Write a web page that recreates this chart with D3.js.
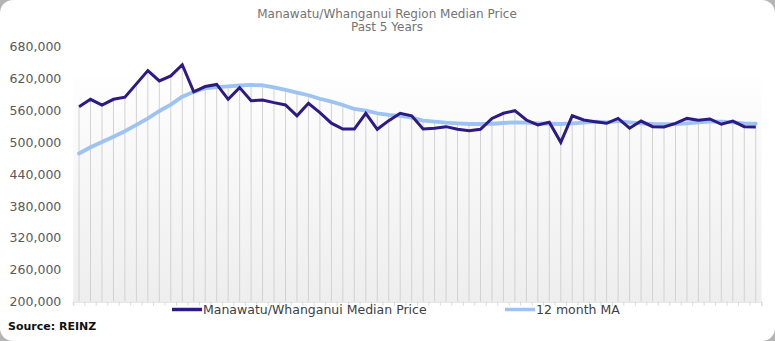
<!DOCTYPE html>
<html><head><meta charset="utf-8">
<script src="https://cdn.jsdelivr.net/npm/d3@7"></script>
<style>html,body{margin:0;padding:0;background:#fff;}svg{display:block;}</style>
</head><body>
<svg id="c" width="775" height="341"></svg>
<script>
const titleLines = ["Manawatu/Whanganui Region Median Price", "Past 5 Years"];
const seriesNames = ["Manawatu/Whanganui Median Price", "12 month MA"];
const medianPrice = [567000,581000,570000,581000,585000,610000,635000,615500,625000,646000,
  595000,605000,609000,581000,603000,578400,579700,574700,570300,550000,
  573500,556000,536000,525000,525000,554700,524600,540800,554700,550000,
  525000,526500,529500,524600,522000,524600,545000,554700,559600,542000,
  532700,537700,500000,550000,542000,538800,535800,545000,526500,540000,
  529500,529000,535800,545000,541500,544000,534000,540000,529500,529000];
const movingAvg = [479000,490700,500700,510600,521000,533000,545000,559000,571000,586000,
  595000,601800,604000,605500,607000,608000,607400,603600,598600,593500,
  588600,582000,576500,570300,562800,559600,554700,551500,549600,546400,
  540800,538800,537000,535800,534500,534500,535000,536400,537700,537000,
  535800,535000,534500,535800,537000,538800,537700,540000,537700,535800,
  534500,534000,534500,535800,537700,538800,538800,537700,535800,535200];
const yTicks = [200000,260000,320000,380000,440000,500000,560000,620000,680000];
const sourceText = "Source: REINZ";

(function(){
const svg = d3.select("#c");
const W = 775, H = 341;
const font = "'DejaVu Sans', sans-serif";

svg.append("rect").attr("width",W).attr("height",H).attr("fill","#b4b4b4");
svg.append("rect").attr("width",W).attr("height",H).attr("rx",13).attr("fill","#fff");

const pl = 73.3, pr = 761.5, pt = 46.7, pb = 301.7;
const idx = d3.range(medianPrice.length);
const x = d3.scaleBand().domain(idx).range([pl,pr]).padding(0);
const cx = i => x(i) + x.bandwidth()/2;
const y = d3.scaleLinear().domain([200000,680000]).range([pb,pt]);

const defs = svg.append("defs");
const g = defs.append("linearGradient").attr("id","bg").attr("x1",0).attr("y1",0).attr("x2",0).attr("y2",1);
g.append("stop").attr("offset","0%").attr("stop-color","#fefefe");
g.append("stop").attr("offset","100%").attr("stop-color","#eeeeee");
svg.append("rect").attr("x",pl).attr("y",75).attr("width",pr-pl).attr("height",pb-75).attr("fill","url(#bg)");

svg.append("g").selectAll("line").data(idx).join("line")
  .attr("x1",i=>cx(i)).attr("x2",i=>cx(i))
  .attr("y1",i=>y(Math.max(medianPrice[i],movingAvg[i])))
  .attr("y2",pb)
  .attr("stroke","#d2d2d2").attr("stroke-width",1);

const xAxis = d3.axisBottom(x).tickSize(4).tickFormat("");
const xg = svg.append("g").attr("transform",`translate(0,${pb})`).call(xAxis);
xg.select(".domain").attr("stroke","#dcdcdc");
xg.selectAll(".tick line").attr("stroke","#d9d9d9").attr("transform",`translate(${-x.bandwidth()/2},0)`);
xg.append("line").attr("x1",pr).attr("x2",pr).attr("y1",0).attr("y2",4).attr("stroke","#d9d9d9");

const yAxis = d3.axisLeft(y).tickValues(yTicks).tickSize(0).tickPadding(12).tickFormat(d3.format(","));
const yg = svg.append("g").attr("transform",`translate(${pl},0)`).call(yAxis);
yg.select(".domain").remove();
yg.selectAll("text").attr("font-family",font).attr("font-size","12.5px").attr("fill","#595959").attr("x",-12);

const line = d3.line().x((d,i)=>cx(i)).y(d=>y(d));
svg.append("path").datum(movingAvg).attr("d",line).attr("fill","none")
  .attr("stroke","#9dc3f3").attr("stroke-width",3.8).attr("stroke-linejoin","round").attr("stroke-linecap","round");
svg.append("path").datum(medianPrice).attr("d",line).attr("fill","none")
  .attr("stroke","#2d1a84").attr("stroke-width",3).attr("stroke-linejoin","miter");

svg.append("g").selectAll("text").data(titleLines).join("text")
  .attr("x",387).attr("y",(d,i)=>18+i*13).attr("text-anchor","middle")
  .attr("font-family",font).attr("font-size","12px").attr("fill","#737373").text(d=>d);

const legColors = ["#2d1a84","#9dc3f3"];
const legX = [172,505];
const lg = svg.append("g");
seriesNames.forEach((n,i)=>{
  lg.append("line").attr("x1",legX[i]).attr("x2",legX[i]+30).attr("y1",309.5).attr("y2",309.5)
    .attr("stroke",legColors[i]).attr("stroke-width",3.5);
  lg.append("text").attr("x",legX[i]+31).attr("y",314).attr("font-family",font).attr("font-size","12.5px")
    .attr("fill","#404040").text(n);
});

svg.append("text").attr("x",8).attr("y",330).attr("font-family",font).attr("font-size","11px")
  .attr("font-weight","bold").attr("fill","#111").text(sourceText);
})();
</script>
</body></html>
